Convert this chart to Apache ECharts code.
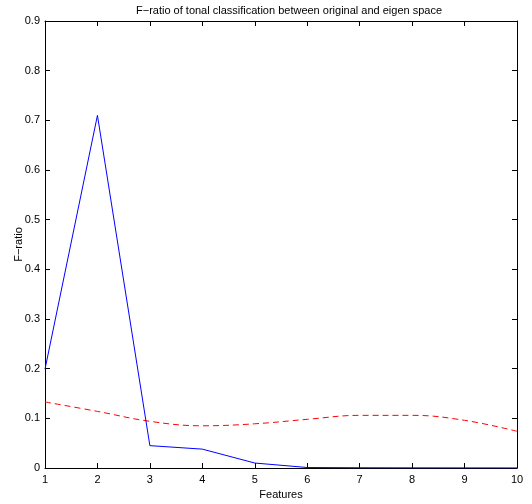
<!DOCTYPE html>
<html><head><meta charset="utf-8">
<script src="https://cdn.jsdelivr.net/npm/echarts@6/dist/echarts.min.js"></script>
<style>html,body{margin:0;padding:0;background:#fff}#c{width:532px;height:504px}</style>
</head><body><div id="c"></div>
<script>
var features = [1,2,3,4,5,6,7,8,9,10];
var originalSpace = [0.199,0.710,0.045,0.038,0.010,0.001,0.0005,0.0003,0.0002,0.0001];
var eigenSpace = [0.133,0.114,0.094,0.085,0.089,0.098,0.106,0.106,0.096,0.074];
var yTicks = [0,0.1,0.2,0.3,0.4,0.5,0.6,0.7,0.8,0.9];

var font = 'Liberation Sans, Arial, sans-serif';
var chart = echarts.init(document.getElementById('c'));
function pairs(vals){ return features.map(function(f,i){ return [f, vals[i]]; }); }
var axLine = {show:true, onZero:false, lineStyle:{color:'#000', width:1}};
var tick = {show:true, inside:true, length:5, lineStyle:{color:'#000'}};
chart.setOption({
  animation:false,
  title:{text:'F\u2212ratio of tonal classification between original and eigen space', left:131, top:0,
    textStyle:{fontFamily:font, fontSize:11, fontWeight:'normal', color:'#000'}},
  grid:{left:45, right:15, top:21, bottom:36, containLabel:false, outerBoundsMode:'none'},
  xAxis:[{type:'value', min:1, max:10, interval:1, position:'bottom',
    name:'Features', nameLocation:'middle', nameGap:21, nameMoveOverlap:false,
    nameTextStyle:{fontFamily:font, fontSize:11, color:'#000'},
    axisLine:axLine, axisTick:tick, splitLine:{show:false},
    axisLabel:{fontFamily:font, fontSize:11, color:'#000', margin:6}},
   {type:'value', min:1, max:10, interval:1, position:'top',
    axisLine:axLine, axisTick:tick, splitLine:{show:false}, axisLabel:{show:false}}],
  yAxis:[{type:'value', min:0, max:0.9, interval:0.1, position:'left',
    name:'F\u2212ratio', nameLocation:'middle', nameGap:21, nameMoveOverlap:false,
    nameTextStyle:{fontFamily:font, fontSize:11, color:'#000'},
    axisLine:axLine, axisTick:tick, splitLine:{show:false},
    axisLabel:{fontFamily:font, fontSize:11, color:'#000', margin:5,
      formatter:function(v){ var s = Math.round(v*10)/10; return s===0?'0':String(s); }}},
   {type:'value', min:0, max:0.9, interval:0.1, position:'right',
    axisLine:axLine, axisTick:tick, splitLine:{show:false}, axisLabel:{show:false}}],
  series:[
    {type:'line', data:pairs(originalSpace), xAxisIndex:0, yAxisIndex:0, showSymbol:false,
      lineStyle:{color:'#0000ff', width:1}, z:3},
    {type:'line', data:pairs(eigenSpace), xAxisIndex:0, yAxisIndex:0, showSymbol:false, smooth:0.4,
      lineStyle:{color:'#ff0000', width:1, type:[6,4]}, z:2}
  ]
});
</script></body></html>
